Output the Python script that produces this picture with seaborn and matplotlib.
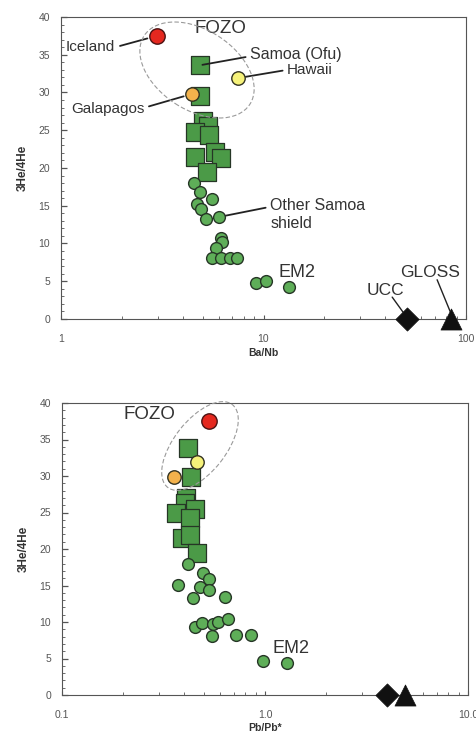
import numpy as np
import pandas as pd
import matplotlib
matplotlib.use("Agg")
import matplotlib.pyplot as plt
from matplotlib.patches import Ellipse
from matplotlib.ticker import MultipleLocator, FixedLocator, FixedFormatter, LogLocator, NullFormatter
import seaborn as sns

# ---------------- data ----------------
# Top panel: Ba/Nb vs 3He/4He
top_sq_x = [4.84, 4.84, 5.0, 5.3, 4.57, 5.4, 5.73, 4.57, 6.2, 5.24]
top_sq_y = [33.6, 29.5, 26.2, 25.6, 24.8, 24.4, 22.1, 21.5, 21.3, 19.5]
top_ci_x = [4.52, 4.84, 5.55, 4.72, 4.9, 5.18, 6.0, 6.2, 6.27, 5.85, 5.55, 6.2, 6.8, 7.36, 9.2, 10.3, 13.4]
top_ci_y = [18.0, 16.8, 15.9, 15.2, 14.6, 13.2, 13.5, 10.7, 10.2, 9.4, 8.1, 8.1, 8.1, 8.1, 4.8, 5.0, 4.3]
top_iceland = (2.97, 37.5)
top_hawaii = (7.45, 31.9)
top_galapagos = (4.42, 29.8)
top_ucc = (51.0, 0.0)
top_gloss = (84.0, 0.0)

# Bottom panel: Pb/Pb* vs 3He/4He
bot_sq_x = [0.417, 0.43, 0.41, 0.403, 0.365, 0.452, 0.427, 0.39, 0.427, 0.46]
bot_sq_y = [33.8, 29.9, 27.0, 26.3, 24.9, 25.5, 24.2, 21.5, 21.9, 19.4]
bot_ci_x = [0.417, 0.495, 0.53, 0.372, 0.478, 0.53, 0.44, 0.635, 0.452, 0.49, 0.555, 0.585, 0.66, 0.547, 0.72, 0.85, 0.98, 1.28]
bot_ci_y = [18.0, 16.7, 15.9, 15.1, 14.8, 14.4, 13.3, 13.4, 9.3, 9.9, 9.7, 10.0, 10.4, 8.1, 8.2, 8.2, 4.7, 4.4]
bot_iceland = (0.53, 37.5)
bot_hawaii = (0.46, 31.9)
bot_galapagos = (0.356, 29.9)
bot_ucc = (3.98, 0.0)
bot_gloss = (4.9, 0.0)

y_ticks = [0, 5, 10, 15, 20, 25, 30, 35, 40]
top_xticks = [1, 10, 100]
top_xticklabels = ["1", "10", "100"]
bot_xticks = [0.1, 1, 10]
bot_xticklabels = ["0.1", "1.0", "10.0"]

# ---------------- style ----------------
sns.set_style("ticks")
plt.rcParams['font.family'] = ['Liberation Sans', 'DejaVu Sans']

SQ_FACE = '#4b9a47'
CI_FACE = '#5eae58'
EDGE = '#263626'
TXT = '#333333'

fig = plt.figure(figsize=(4.77, 7.40), dpi=100)
ax1 = fig.add_axes([61/477, 1-319/740, 405/477, 302/740])
ax2 = fig.add_axes([62/477, 1-695/740, 406/477, 292/740])


def draw_panel(ax, sqx, sqy, cix, ciy, ice, haw, gal, ucc, gloss, sq_s, ci_s):
    sns.scatterplot(x=sqx, y=sqy, ax=ax, marker='s', s=sq_s, color=SQ_FACE,
                    edgecolor=EDGE, linewidth=0.9, zorder=3, legend=False)
    sns.scatterplot(x=cix, y=ciy, ax=ax, marker='o', s=ci_s, color=CI_FACE,
                    edgecolor=EDGE, linewidth=1.0, zorder=4, legend=False)
    sns.scatterplot(x=[ice[0]], y=[ice[1]], ax=ax, marker='o', s=ci_s*1.7, color='#e5281f',
                    edgecolor='#4a1212', linewidth=1.0, zorder=5, legend=False)
    sns.scatterplot(x=[haw[0]], y=[haw[1]], ax=ax, marker='o', s=ci_s*1.3, color='#f6f27a',
                    edgecolor='#333322', linewidth=1.0, zorder=5, legend=False)
    sns.scatterplot(x=[gal[0]], y=[gal[1]], ax=ax, marker='o', s=ci_s*1.3, color='#f3b24c',
                    edgecolor='#333322', linewidth=1.0, zorder=5, legend=False)
    sns.scatterplot(x=[ucc[0]], y=[ucc[1]], ax=ax, marker='D', s=140, color='#111111',
                    edgecolor='#111111', linewidth=0.5, zorder=6, legend=False, clip_on=False)
    sns.scatterplot(x=[gloss[0]], y=[gloss[1]], ax=ax, marker='^', s=230, color='#111111',
                    edgecolor='#111111', linewidth=0.5, zorder=6, legend=False, clip_on=False)

    ax.set_yscale('linear')
    ax.set_ylim(0, 40)
    ax.yaxis.set_major_locator(FixedLocator(y_ticks))
    ax.yaxis.set_minor_locator(MultipleLocator(1))
    ax.tick_params(axis='both', which='both', direction='in', colors='#555555',
                   labelsize=7.5, labelcolor='#555555')
    ax.tick_params(axis='y', which='major', length=4, width=0.9, pad=8)
    ax.tick_params(axis='y', which='minor', length=2, width=0.6)
    ax.tick_params(axis='x', which='major', length=3, width=0.8, pad=11)
    ax.tick_params(axis='x', which='minor', length=2, width=0.6)
    for sp in ax.spines.values():
        sp.set_visible(True)
        sp.set_color('#555555')
        sp.set_linewidth(0.8)
    ax.set_ylabel('3He/4He', fontsize=8.5, fontweight='bold', color='#333333', labelpad=7)


draw_panel(ax1, top_sq_x, top_sq_y, top_ci_x, top_ci_y, top_iceland, top_hawaii,
           top_galapagos, top_ucc, top_gloss, sq_s=165, ci_s=72)
draw_panel(ax2, bot_sq_x, bot_sq_y, bot_ci_x, bot_ci_y, bot_iceland, bot_hawaii,
           bot_galapagos, bot_ucc, bot_gloss, sq_s=180, ci_s=72)

for ax, ticks, labels, lim in [(ax1, top_xticks, top_xticklabels, (1, 100)),
                                (ax2, bot_xticks, bot_xticklabels, (0.1, 10))]:
    ax.set_xscale('log')
    ax.set_xlim(*lim)
    ax.xaxis.set_major_locator(FixedLocator(ticks))
    ax.xaxis.set_major_formatter(FixedFormatter(labels))
    ax.xaxis.set_minor_locator(LogLocator(base=10, subs=np.arange(2, 10)))
    ax.xaxis.set_minor_formatter(NullFormatter())

ax1.set_xlabel('Ba/Nb', fontsize=7.5, fontweight='bold', color='#333333', labelpad=3)
ax2.set_xlabel('Pb/Pb*', fontsize=7.5, fontweight='bold', color='#333333', labelpad=2)

# ---------------- annotations, top ----------------
line = dict(arrowstyle='-', color='#222222', lw=1.3, shrinkA=1)
ax1.annotate('Iceland', xy=top_iceland, xytext=(1.06, 36.0), fontsize=11, color=TXT,
             va='center', ha='left', arrowprops=dict(line, shrinkB=7, relpos=(1, 0.5)))
ax1.annotate('Samoa (Ofu)', xy=(top_sq_x[0], top_sq_y[0]), xytext=(8.6, 35.0), fontsize=11.5,
             color=TXT, va='center', ha='left', arrowprops=dict(line, shrinkB=2, relpos=(0, 0.4)))
ax1.annotate('Hawaii', xy=top_hawaii, xytext=(13.1, 33.0), fontsize=11, color=TXT,
             va='center', ha='left', arrowprops=dict(line, shrinkB=6, relpos=(0, 0.5)))
ax1.annotate('Galapagos', xy=top_galapagos, xytext=(1.12, 27.8), fontsize=11, color=TXT,
             va='center', ha='left', arrowprops=dict(line, shrinkB=6, relpos=(1, 0.6)))
ax1.annotate('Other Samoa\nshield', xy=(top_ci_x[6], top_ci_y[6]), xytext=(10.8, 13.9),
             fontsize=11.5, color=TXT, va='center', ha='left', linespacing=1.25,
             arrowprops=dict(line, shrinkB=5, relpos=(0, 0.72)))
ax1.text(4.54, 38.5, 'FOZO', fontsize=13.5, color=TXT, va='center', ha='left')
ax1.text(11.8, 6.2, 'EM2', fontsize=13, color=TXT, va='center', ha='left')
ax1.text(32.4, 3.8, 'UCC', fontsize=12.5, color=TXT, va='center', ha='left')
ax1.text(47.1, 6.2, 'GLOSS', fontsize=12.5, color=TXT, va='center', ha='left')
thin = dict(arrowstyle='-', color='#222222', lw=1.0, shrinkA=0, shrinkB=0)
ax1.annotate('', xy=(48.9, 0.9), xytext=(43.2, 2.9), arrowprops=thin)
ax1.annotate('', xy=(83.5, 1.0), xytext=(72.0, 5.2), arrowprops=thin)

# ---------------- annotations, bottom ----------------
ax2.text(0.2, 38.4, 'FOZO', fontsize=13.5, color=TXT, va='center', ha='left')
ax2.text(1.09, 6.4, 'EM2', fontsize=13, color=TXT, va='center', ha='left')

# FOZO field outlines (decoration, in figure inches)
e1 = Ellipse((1.97, 6.70), 1.26, 0.80, angle=-33, transform=fig.dpi_scale_trans,
             fill=False, edgecolor='#9a9a9a', lw=0.8, linestyle=(0, (4, 2)), zorder=2)
e2 = Ellipse((2.00, 2.94), 1.05, 0.52, angle=52, transform=fig.dpi_scale_trans,
             fill=False, edgecolor='#9a9a9a', lw=0.8, linestyle=(0, (4, 2)), zorder=2)
fig.add_artist(e1)
fig.add_artist(e2)

fig.savefig('out.png', dpi=100)
